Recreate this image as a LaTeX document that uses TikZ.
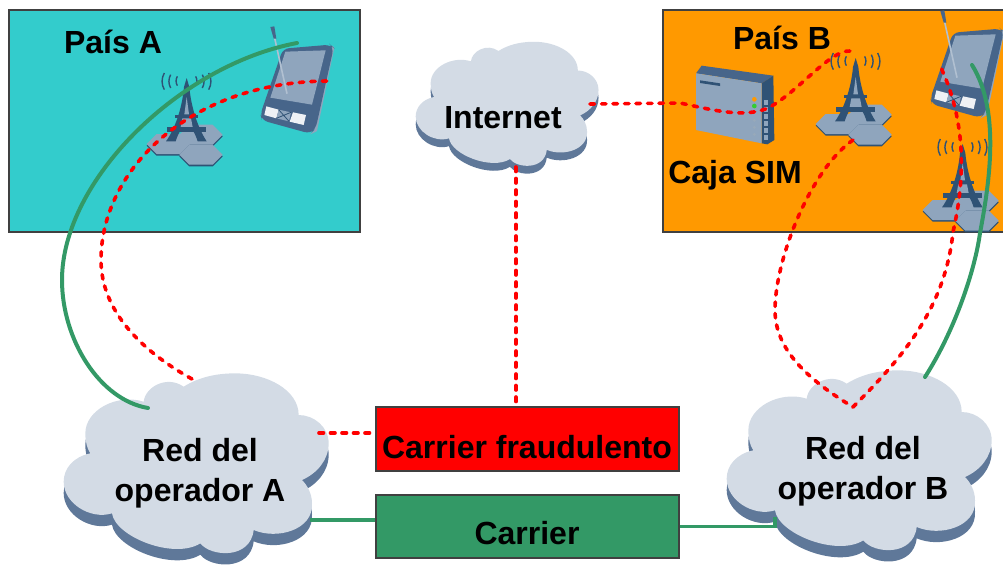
\documentclass[tikz,border=0pt]{standalone}
\usepackage{fontspec}
\setmainfont{Liberation Sans}

\definecolor{cloudfill}{HTML}{D3DBE5}
\definecolor{cloudshade}{HTML}{5F7899}
\definecolor{paisteal}{HTML}{33CCCC}
\definecolor{paisorange}{HTML}{FF9900}
\definecolor{linegreen}{HTML}{339966}
\definecolor{gearblue}{HTML}{2F5275}
\definecolor{gearmid}{HTML}{47658A}
\definecolor{gearlight}{HTML}{8FA5BD}

\newcommand{\cloudoutline}{(120,280) .. controls (70,290) and (40,325) .. (40,365)
  .. controls (40,430) and (120,480) .. (185,460)
  .. controls (195,530) and (370,600) .. (450,550)
  .. controls (480,590) and (600,600) .. (610,510)
  .. controls (680,540) and (790,510) .. (785,430)
  .. controls (785,400) and (770,375) .. (755,360)
  .. controls (800,340) and (835,300) .. (835,250)
  .. controls (835,200) and (790,165) .. (745,165)
  .. controls (745,90) and (650,40) .. (555,40)
  .. controls (490,40) and (440,55) .. (400,80)
  .. controls (350,45) and (285,80) .. (280,125)
  .. controls (200,100) and (105,150) .. (105,220)
  .. controls (105,245) and (110,265) .. (120,280) -- cycle}

\tikzset{
  label/.style={font=\bfseries\fontsize{32}{40}\selectfont,align=center,text=black},
  pais/.style={draw=black!75,line width=1.2pt},
  carrierbox/.style={draw=black!75,line width=1.2pt,minimum width=303pt,inner sep=0pt},
  reddots/.style={red,line width=3.6pt,line cap=round,dash pattern=on 4.5pt off 7pt},
  greenline/.style={linegreen,line width=4pt,line cap=round},
  cloudshape/.pic={
    \begin{scope}[scale=1/3,shift={(-437,-315)}]
      \fill[cloudshade,shift={(0,34)}] \cloudoutline;
      \fill[cloudfill] \cloudoutline;
    \end{scope}
  },
  towershape/.pic={
    \begin{scope}[scale=1/3,shift={(-165,-400)}]
      % cells
      \foreach \cx/\cy in {213/375,115/403,213/435}{
        \begin{scope}[shift={(\cx,\cy)}]
          \fill[gearblue,shift={(0,5)}] (-65,0) -- (-35,-30) -- (35,-30) -- (65,0) -- (35,30) -- (-35,30) -- cycle;
          \fill[gearlight] (-65,0) -- (-35,-30) -- (35,-30) -- (65,0) -- (35,30) -- (-35,30) -- cycle;
        \end{scope}
      }
      % tower
      \fill[gearblue] (170,205) -- (178,232) .. controls (184,300) and (207,360) .. (230,395)
        -- (203,395) .. controls (195,370) and (185,352) .. (170,348)
        .. controls (155,352) and (145,370) .. (137,395) -- (108,395)
        .. controls (133,360) and (156,300) .. (162,232) -- cycle;
      \fill[gearlight] (170,262) -- (177,314) -- (163,314) -- cycle;
      \fill[gearlight] (157,326) -- (183,326) -- (188,352) -- (152,352) -- cycle;
      \fill[gearblue] (135,315) rectangle (205,326);
      \fill[gearblue] (110,352) rectangle (228,367);
      % waves
      \draw[gearblue,line width=1.4pt]
        (103,190) .. controls (94,205) and (94,225) .. (103,240)
        (122,195) .. controls (115,208) and (115,222) .. (122,235)
        (142,200) .. controls (137,210) and (137,218) .. (142,228)
        (197,200) .. controls (202,210) and (202,218) .. (197,228)
        (217,195) .. controls (224,208) and (224,222) .. (217,235)
        (236,190) .. controls (245,205) and (245,225) .. (236,240);
    \end{scope}
  },
  pdashape/.pic={
    \begin{scope}[scale=1/3,shift={(-500,-230)}]
      \fill[gearlight] (540,372) -- (560,362) -- (612,112) -- (606,106) -- (550,362) -- cycle;
      \fill[gearmid,rounded corners=6pt] (458,115) -- (600,103) -- (610,112) -- (556,355) -- (540,370) -- (395,330) -- (390,312) -- cycle;
      \fill[gearlight] (465,124) -- (586,120) -- (545,283) -- (420,262) -- cycle;
      \fill[white!85!gearlight] (408,288) -- (445,298) -- (438,324) -- (402,314) -- cycle;
      \fill[gearlight] (445,298) -- (482,306) -- (476,333) -- (438,324) -- cycle;
      \fill[white!85!gearlight] (488,306) -- (527,314) -- (520,344) -- (478,334) -- cycle;
      \draw[gearblue,line width=.8pt] (445,298) -- (476,333) (482,306) -- (438,324);
      \draw[gearlight!70!white,line width=1.6pt] (430,70) -- (470,250);
      \fill[gearmid] (420,50) -- (432,48) -- (438,85) -- (430,85) -- cycle;
    \end{scope}
  },
  simshape/.pic={
    \begin{scope}[scale=1/3,shift={(-165,-300)}]
      \fill[gearmid] (48,205) -- (65,182) -- (280,212) -- (245,235) -- cycle;
      \fill[gearblue] (245,235) -- (280,212) -- (283,405) -- (262,418) -- (245,415) -- cycle;
      \fill[gearlight] (48,205) -- (245,235) -- (245,415) -- (48,375) -- cycle;
      \fill[gearblue] (60,226) -- (120,235) -- (120,243) -- (60,234) -- cycle;
      \fill[orange!80!yellow] (223,283) circle (7);
      \fill[green!60!gray] (223,303) circle (7);
      \foreach \ledy in {325,346,367,388}
        \fill[gearblue!50!white] (223,\ledy) circle (5);
      \foreach \ledy in {285,306,327,348,369,390}
        \fill[gearlight] (252,\ledy) rectangle (265,\ledy+14);
    \end{scope}
  }
}

\begin{document}
\begin{tikzpicture}[x=1pt,y=-1pt]

  \useasboundingbox (0,0) rectangle (1003,565);
  \clip (0,0) rectangle (1003,565);

  % countries
  \node[pais,fill=paisteal,minimum width=351pt,minimum height=222pt,inner sep=0pt] (paisA) at (184.5,121) {};
  \node[pais,fill=paisorange,minimum width=351pt,minimum height=222pt,inner sep=0pt] (paisB) at (838.5,121) {};

  \pic at (185,143) {towershape};
  \pic at (854,123) {towershape};
  \pic at (961,209) {towershape};
  \pic at (297,87) {pdashape};
  \pic at (967,71) {pdashape};
  \pic at (735,105) {simshape};

  % clouds
  \pic at (196,465) {cloudshape};
  \pic[scale=.69] at (507,105) {cloudshape};
  \pic at (859,462) {cloudshape};

  % carriers
  \node[carrierbox,fill=red,minimum height=64pt] (fraude) at (527.5,439) {};
  \node[carrierbox,fill=linegreen,minimum height=63pt] (carrier) at (527.5,526.5) {};

  % free ends
  \coordinate (greenAin) at (148,408);
  \coordinate (greenAout) at (297,43);
  \coordinate (dotsAin) at (192,379);
  \coordinate (dotsAout) at (330,81);
  \coordinate (dotsNet) at (590,104);
  \coordinate (dotsTower) at (855,55);
  \coordinate (dotsNetDown) at (516,167);
  \coordinate (dotsRedA) at (319,433);
  \coordinate (lineRedA) at (310,520);
  \coordinate (lineRedB) at (775,517);
  \coordinate (dotsTowerB) at (853,140);
  \coordinate (dotsVee) at (853,407);
  \coordinate (dotsPda) at (940,65);
  \coordinate (greenBin) at (925,377);
  \coordinate (greenBout) at (972,65);

  % connectors
  \draw[greenline] (greenAin) .. controls (100,400) and (62,340) .. (62,280)
    .. controls (62,180) and (180,65) .. (greenAout);
  \draw[reddots] (dotsAin) .. controls (140,350) and (101,310) .. (101,260)
    .. controls (101,170) and (190,81) .. (dotsAout);
  \draw[reddots] (dotsNet) -- (680,103) .. controls (705,108) and (745,120) .. (770,107)
    .. controls (800,90) and (830,50) .. (850,51) -- (dotsTower);
  \draw[reddots] (dotsNetDown) -- (dotsNetDown |- fraude.north);
  \draw[reddots] (dotsRedA) -- (dotsRedA -| fraude.west);
  \draw[reddots] (dotsTowerB) .. controls (810,170) and (775,260) .. (775,310)
    .. controls (775,345) and (800,375) .. (dotsVee);
  \draw[reddots] (dotsVee) .. controls (900,360) and (945,310) .. (953,232)
    .. controls (965,180) and (965,130) .. (947,82) -- (dotsPda);
  \draw[greenline] (greenBin) .. controls (955,330) and (975,270) .. (980,233)
    .. controls (990,180) and (1000,110) .. (greenBout);
  \draw[linegreen,line width=3.5pt] (lineRedA) -- (lineRedA -| carrier.west);
  \draw[linegreen,line width=3.5pt] (carrier.east) -- (carrier.east -| lineRedB) -- (lineRedB);

  % labels
  \node[label] (lblA) at (113,42) {País A};
  \node[label] (lblB) at (782,38) {País B};
  \node[label] (lblSim) at (735,175) {Caja SIM};
  \node[label] (lblNet) at (503,118) {Internet};
  \node[label] (lblRedA) at (200,473) {Red del\\operador A};
  \node[label] (lblRedB) at (863,471) {Red del\\operador B};
  \node[label] (lblFraude) at (527,447) {Carrier fraudulento};
  \node[label] (lblCarrier) at (527,533) {Carrier};

\end{tikzpicture}
\end{document}
